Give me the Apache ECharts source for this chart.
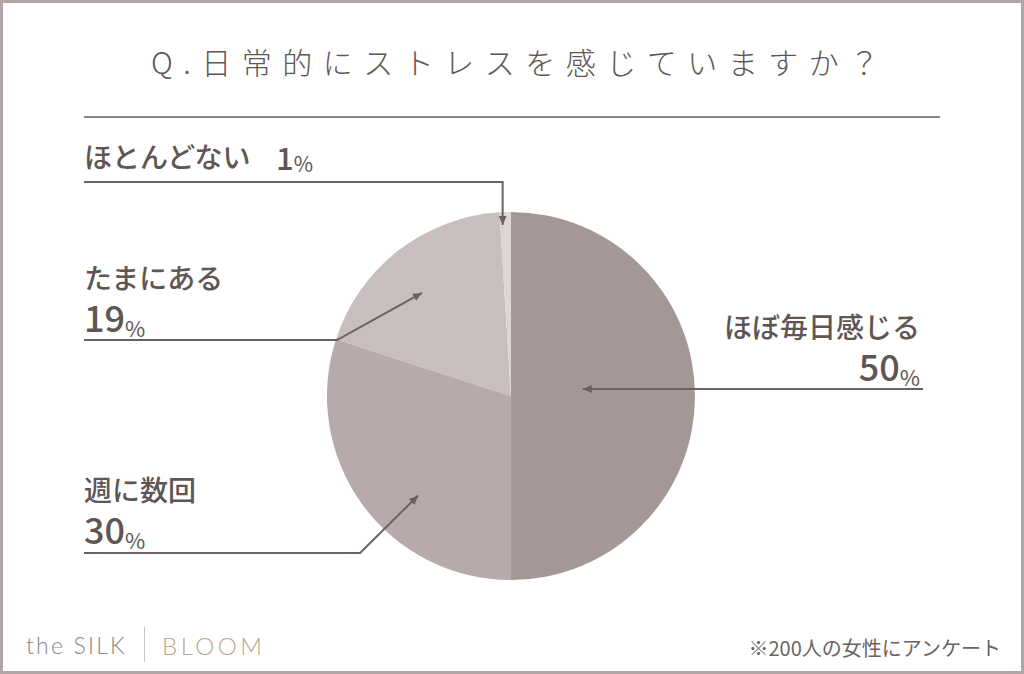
<!DOCTYPE html>
<html><head><meta charset="utf-8">
<script src="https://cdn.jsdelivr.net/npm/echarts@6/dist/echarts.min.js"></script>
<style>
html,body{margin:0;padding:0;background:#fff;}
#chart{width:1024px;height:674px;}
#chart svg text[style*="30px"]{letter-spacing:10.5px;}
#chart svg text[style*="23px"]{letter-spacing:2.2px;}
#chart svg text[style*="24px"]{letter-spacing:3.5px;}
</style></head><body><div id="chart"></div>
<script>
// ---- data ----
const titleText = 'Q.日常的にストレスを感じていますか？';
const categories = ['ほぼ毎日感じる', '週に数回', 'たまにある', 'ほとんどない'];
const percents = [50, 30, 19, 1];
const footnote = '※200人の女性にアンケート';
const brandLeft = 'the SILK';
const brandRight = 'BLOOM';

// ---- styles / layout ----
const sliceColors = ['#a69797', '#b8aaaa', '#c9bebe', '#ddd4d4'];
const TEXT = '#5e5654';
const LINE = '#6a6260';
const PIE = {cx: 511, cy: 396, r: 184};
const LABEL_LAYOUT = [
  {x: 920, top: 309, align: 'right', lineY: 389, endX: 923, tipFrac: 0.39, mode: 'horizontal'},
  {x: 84, top: 472, align: 'left', lineY: 553, endX: 84, elbowX: 360, tipFrac: 0.74, angleShift: -11, mode: 'elbow'},
  {x: 84, top: 260, align: 'left', lineY: 340, endX: 84, elbowX: 337, tipFrac: 0.74, angleShift: -3, mode: 'elbow'},
  {x: 84, top: 139, align: 'left', lineY: 182, endX: 84, tipFrac: 0.93, angleShift: -1, mode: 'vertical', inline: true}
];
const FF = "'Noto Sans CJK JP', 'Noto Sans', sans-serif";

function leaderPoints(i) {
  const total = percents.reduce((a, b) => a + b, 0);
  let cum = 0;
  for (let k = 0; k < i; k++) cum += percents[k];
  const L = LABEL_LAYOUT[i];
  const mid = (cum + percents[i] / 2) / total * 360 + (L.angleShift || 0);
  const rad = mid * Math.PI / 180;
  const rr = PIE.r * L.tipFrac;
  const tip = [PIE.cx + rr * Math.sin(rad), PIE.cy - rr * Math.cos(rad)];
  if (L.mode === 'horizontal') return [[L.endX, L.lineY], [tip[0], L.lineY]];
  if (L.mode === 'vertical') return [[L.endX, L.lineY], [tip[0], L.lineY], tip];
  return [[L.endX, L.lineY], [L.elbowX, L.lineY], tip];
}

function arrowHead(pts) {
  const a = pts[pts.length - 2], b = pts[pts.length - 1];
  const dx = b[0] - a[0], dy = b[1] - a[1];
  const len = Math.hypot(dx, dy);
  const ux = dx / len, uy = dy / len, nx = -uy, ny = ux;
  const L = 9, W = 4;
  return [b, [b[0] - L * ux + W * nx, b[1] - L * uy + W * ny], [b[0] - L * ux - W * nx, b[1] - L * uy - W * ny]];
}

const graphics = [
  {type: 'rect', silent: true, z: 100, shape: {x: 1.5, y: 1.5, width: 1021, height: 671}, style: {fill: 'none', stroke: '#b1a5a5', lineWidth: 3}},
  {type: 'line', silent: true, z: 100, shape: {x1: 84, y1: 117, x2: 940, y2: 117}, style: {stroke: '#8d8583', lineWidth: 2}}
];
categories.forEach((c, i) => {
  const pts = leaderPoints(i);
  graphics.push({type: 'polyline', silent: true, z: 100, shape: {points: pts}, style: {stroke: LINE, lineWidth: 2, fill: null}});
  graphics.push({type: 'polygon', silent: true, z: 100, shape: {points: arrowHead(pts)}, style: {fill: LINE}});
});
graphics.push(
  {type: 'text', silent: true, z: 100, x: 26, y: 645, style: {text: brandLeft, fontSize: 23, fontWeight: 300, fontFamily: 'Lato', fill: '#8b8685', align: 'left', verticalAlign: 'middle'}},
  {type: 'line', silent: true, z: 100, shape: {x1: 144.5, y1: 627, x2: 144.5, y2: 662}, style: {stroke: '#cbc3c1', lineWidth: 1}},
  {type: 'text', silent: true, z: 100, x: 162, y: 645, style: {text: brandRight, fontSize: 24, fontWeight: 300, fontFamily: 'Lato', fill: '#b9a58c', align: 'left', verticalAlign: 'middle'}},
  {type: 'text', silent: true, z: 100, x: 1001, y: 647, style: {text: footnote, fontSize: 20, fontFamily: FF, fill: '#6b6361', align: 'right', verticalAlign: 'middle'}}
);

const chart = echarts.init(document.getElementById('chart'), null, {renderer: 'svg'});
chart.setOption({
  animation: false,
  backgroundColor: '#ffffff',
  title: {
    text: titleText, left: 151, top: 46, padding: 0,
    textStyle: {fontSize: 30, lineHeight: 30, fontWeight: 300, fontFamily: FF, color: TEXT}
  },
  graphic: graphics,
  series: [{
    type: 'pie',
    center: [PIE.cx, PIE.cy],
    radius: PIE.r,
    startAngle: 90,
    clockwise: true,
    silent: true,
    avoidLabelOverlap: false,
    emphasis: {disabled: true},
    data: categories.map((c, i) => ({name: c, value: percents[i], itemStyle: {color: sliceColors[i]}})),
    label: {
      show: true,
      position: 'outside',
      color: TEXT,
      formatter: (p) => LABEL_LAYOUT[p.dataIndex].inline
        ? '{n|' + p.name + '}{g| }{q|' + p.value + '}{t|%}'
        : '{n|' + p.name + '}\n{p|' + p.value + '}{s|%}',
      rich: {
        n: {fontSize: 28, lineHeight: 34, fontWeight: 500, fontFamily: FF, color: TEXT},
        p: {fontSize: 36, lineHeight: 44, fontWeight: 500, fontFamily: FF, color: TEXT},
        s: {fontSize: 22, lineHeight: 33, verticalAlign: 'bottom', fontWeight: 'normal', fontFamily: FF, color: TEXT},
        g: {fontSize: 28, lineHeight: 34, width: 24, fontFamily: FF},
        q: {fontSize: 31, lineHeight: 34, fontWeight: 500, fontFamily: FF, color: TEXT},
        t: {fontSize: 21, lineHeight: 29, verticalAlign: 'bottom', fontWeight: 'normal', fontFamily: FF, color: TEXT}
      }
    },
    labelLine: {show: false},
    labelLayout: (p) => {
      const L = LABEL_LAYOUT[p.dataIndex];
      return {x: L.x, y: L.top, align: L.align, verticalAlign: 'top'};
    }
  }]
});
</script></body></html>
